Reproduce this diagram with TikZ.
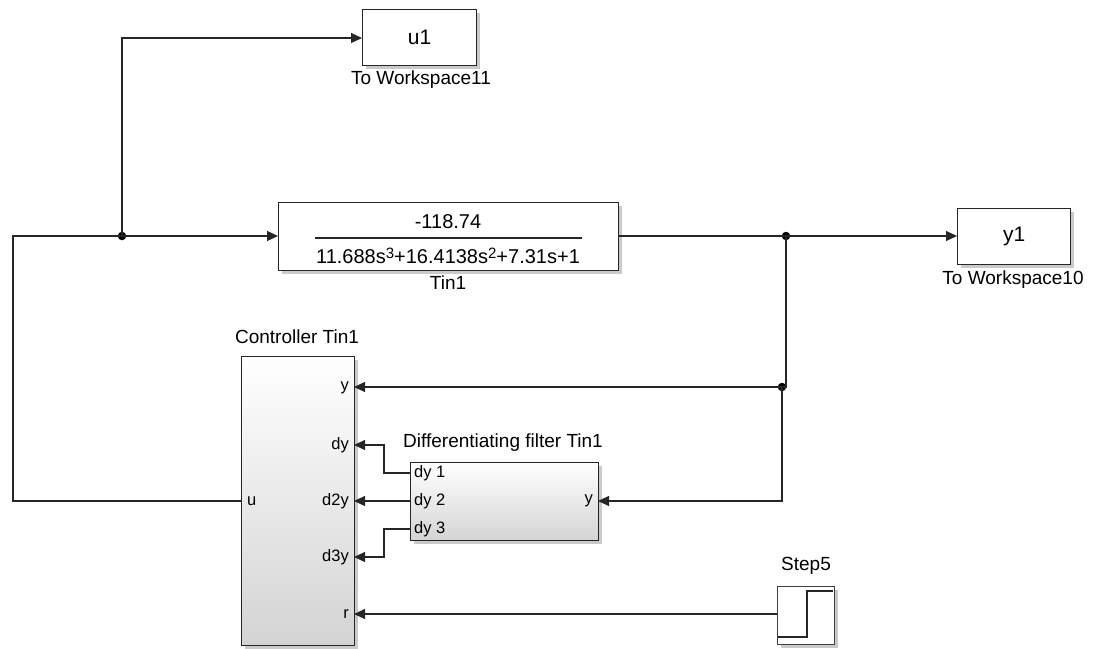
\documentclass[tikz,border=0pt]{standalone}
\usepackage{fontspec}
\setmainfont{Liberation Sans}
\usetikzlibrary{arrows.meta,calc,shadows}
\newcommand{\mysup}[1]{\raisebox{5pt}{\fontsize{15}{15}\selectfont #1}}
\begin{document}
\begin{tikzpicture}[x=1pt,y=-1pt,
  blk/.style={draw=black!85, line width=1.3pt, fill=white, anchor=north west, inner sep=0pt,
    drop shadow={shadow xshift=3pt, shadow yshift=-3pt, opacity=0.35, fill=black!60}},
  gblk/.style={blk, top color=white, bottom color=black!17},
  lbl/.style={font=\fontsize{19}{22}\selectfont, inner sep=0pt},
  prt/.style={font=\fontsize{16.5}{19}\selectfont, inner sep=0pt},
  wire/.style={draw=black!85, line width=1.1pt},
  sig/.style={wire, -{Triangle[length=11pt,width=10pt]}},
  jdot/.style={circle, fill=black, inner sep=0pt, minimum size=8.5pt}
]
\useasboundingbox (0,0) rectangle (1095,648);

% blocks
\node[blk, minimum width=114pt, minimum height=56pt] (u1) at (362,9) {};
\node[lbl, font=\fontsize{21}{24}\selectfont] (u1t) at (u1.center) {u1};
\node[lbl] (u1l) at (421,80) {To Workspace11};

\node[blk, minimum width=340pt, minimum height=68pt] (tin) at (278,202) {};
\node[lbl, font=\fontsize{20}{24}\selectfont] (num) at (448,222) {-118.74};
\draw[line width=1.1pt, draw=black!85] (315,238) -- (582,238);
\node[lbl, font=\fontsize{20}{24}\selectfont] (den) at (448,256) {11.688s\mysup{3}+16.4138s\mysup{2}+7.31s+1};
\node[lbl] (tinl) at (448,283) {Tin1};

\node[blk, minimum width=113pt, minimum height=56pt] (y1) at (957,208) {};
\node[lbl, font=\fontsize{21}{24}\selectfont] (y1t) at (y1.center) {y1};
\node[lbl] (y1l) at (1013,280) {To Workspace10};

\node[gblk, minimum width=113pt, minimum height=289pt] (ctrl) at (241,356) {};
\node[lbl] (ctrll) at (297,337) {Controller Tin1};
\node[prt, anchor=east] at (349,388) {y};
\node[prt, anchor=east] at (349,445) {dy};
\node[prt, anchor=east] at (349,501) {d2y};
\node[prt, anchor=east] at (349,557) {d3y};
\node[prt, anchor=east] at (349,614) {r};
\node[prt, anchor=west] at (247,501) {u};

\node[gblk, minimum width=188pt, minimum height=78pt] (filt) at (410,462) {};
\node[lbl] (filtl) at (503,443) {Differentiating filter Tin1};
\node[prt, anchor=west] at (414,473) {dy 1};
\node[prt, anchor=west] at (414,501) {dy 2};
\node[prt, anchor=west] at (414,529) {dy 3};
\node[prt, anchor=east] at (593,501) {y};

\node[blk, draw=black!75, minimum width=57pt, minimum height=58pt] (step) at (777,586) {};
\draw[line width=1.1pt, draw=black!85] (778,637) -- (807,637) -- (807,591) -- (833,591);
\node[lbl] (stepl) at (806,566) {Step5};

% ports
\coordinate (c-y) at (354,388);
\coordinate (c-dy) at (354,445);
\coordinate (c-d2y) at (354,501);
\coordinate (c-d3y) at (354,557);
\coordinate (c-r) at (354,614);
\coordinate (c-u) at (241,501);
\coordinate (f-1) at (410,473);
\coordinate (f-2) at (410,501);
\coordinate (f-3) at (410,529);
\coordinate (f-y) at (598,501);
\coordinate (s-o) at (777,614);
\coordinate (t-in) at (278,236);
\coordinate (t-out) at (618,236);
\coordinate (u1-in) at (362,38);
\coordinate (y1-in) at (957,236);
\coordinate (lc) at (13,236);

% junctions
\node[jdot] (j1) at (122,236) {};
\node[jdot] (j2) at (786,236) {};
\node[jdot] (j3) at (782,387) {};

% wires
\draw[wire] (c-u) -| (lc) -- (j1.center);
\draw[sig] (j1.center) -- (t-in);
\draw[sig] (j1.center) |- (u1-in);
\draw[wire] (t-out) -- (j2.center);
\draw[sig] (j2.center) -- (y1-in);
\draw[wire] (j2.center) |- (j3.center);
\draw[sig] (j3.center) -- (c-y |- j3);
\draw[sig] (j3.center) |- (f-y);
\draw[sig] (f-1) -- (384,473) |- (c-dy);
\draw[sig] (f-2) -- (c-d2y);
\draw[sig] (f-3) -- (384,529) |- (c-d3y);
\draw[sig] (s-o) -- (c-r);
\end{tikzpicture}
\end{document}
